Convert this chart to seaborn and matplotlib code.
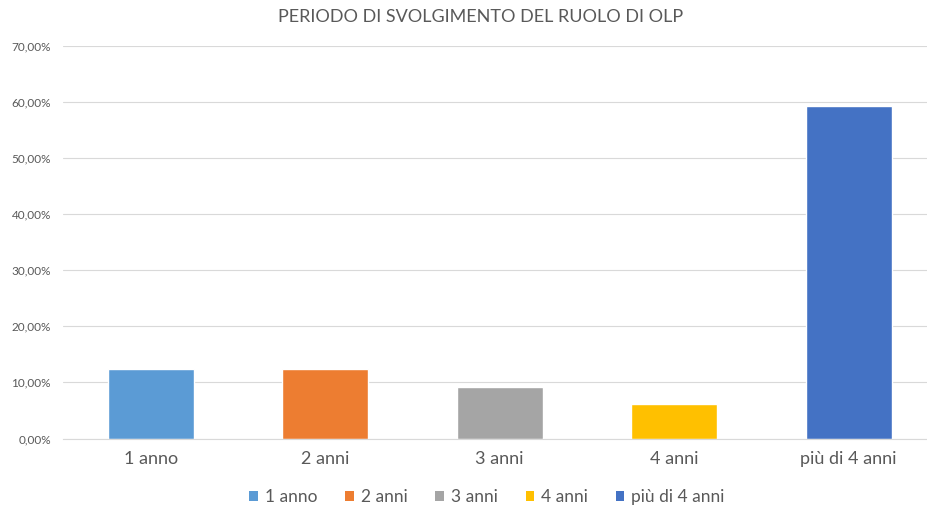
import matplotlib
matplotlib.use("Agg")
import matplotlib.pyplot as plt
import seaborn as sns
import pandas as pd
from matplotlib.ticker import FuncFormatter, FixedLocator
from matplotlib.patches import Patch

categories = ["1 anno", "2 anni", "3 anni", "4 anni", "più di 4 anni"]
values = [0.123, 0.123, 0.092, 0.062, 0.593]
colors = ["#5B9BD5", "#ED7D31", "#A5A5A5", "#FFC000", "#4472C4"]
title = "PERIODO DI SVOLGIMENTO DEL RUOLO DI OLP"

sns.set_theme(style="white")
plt.rcParams['font.family'] = ['Lato', 'DejaVu Sans']

df = pd.DataFrame({"cat": categories, "val": values})

fig = plt.figure(figsize=(9.28, 5.09), dpi=100)
W, H = 928, 509
left_px, right_px = 63.5, 928
zero_px, top_px = 438.5, 45.5
ax = fig.add_axes([left_px / W, (H - zero_px) / H, (right_px - left_px) / W, (zero_px - top_px) / H])

sns.barplot(data=df, x="cat", y="val", hue="cat", palette=colors, width=0.49,
            legend=False, ax=ax, saturation=1)

cat_w = 174.5
ax.set_xlim(-0.5, -0.5 + (right_px - left_px) / cat_w)
ax.set_ylim(0, 0.70)
ax.set_yticks([i / 10 for i in range(8)])
ax.yaxis.set_major_formatter(FuncFormatter(lambda v, p: f"{v*100:.2f}%".replace(".", ",")))
ax.grid(axis="y", color="#D9D9D9", linewidth=0.8)
ax.set_axisbelow(True)
for s in ["top", "right", "left"]:
    ax.spines[s].set_visible(False)
ax.spines["bottom"].set_color("#D9D9D9")
ax.spines["bottom"].set_linewidth(0.8)
ax.set_xlabel("")
ax.set_ylabel("")
ax.tick_params(axis="y", labelsize=8.5, labelcolor="#595959", length=0, pad=9)
ax.tick_params(axis="x", which="major", labelsize=13, labelcolor="#595959", length=0, pad=9)
ax.xaxis.set_minor_locator(FixedLocator([i + 0.5 for i in range(-1, 5)]))
ax.tick_params(axis="x", which="minor", length=4, color="#D9D9D9", width=0.8)

fig.text(481 / W, 1 - 17 / H, title, ha="center", va="center", fontsize=13, color="#595959")

handles = [Patch(facecolor=c, edgecolor="none", label=l) for c, l in zip(colors, categories)]
fig.legend(handles=handles, loc="center", bbox_to_anchor=(487 / W, 1 - 497 / H), ncol=5,
           frameon=False, fontsize=12.5, handlelength=0.5, handleheight=0.5,
           handletextpad=0.4, columnspacing=1.6, labelcolor="#595959")

fig.savefig("out.png", dpi=100)
